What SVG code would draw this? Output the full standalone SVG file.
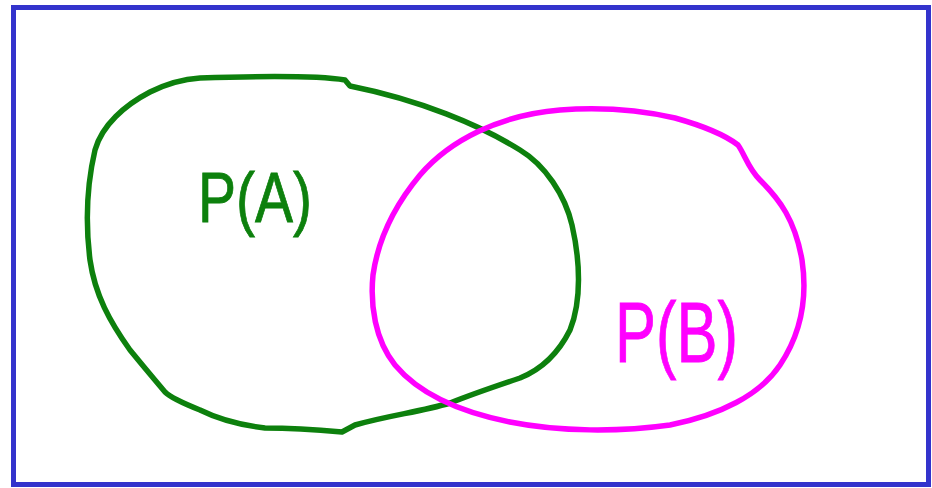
<svg xmlns="http://www.w3.org/2000/svg" width="932" height="488" viewBox="0 0 932 488">
<style>
.frame{fill:#fff;stroke:#3333cc;stroke-width:5}
.blob{fill:none;stroke-width:5.5;stroke-linecap:round;stroke-linejoin:round}
.lbl{font-family:"Liberation Sans",Arial,sans-serif;stroke-width:0.8}
</style>
<rect class="frame" x="13.5" y="7.5" width="915" height="477"/>
<g id="setA">
<path class="blob" stroke="#0d800d" d="M200,78 C260,76 320,76 345,80 L350,86 C420,100 480,125 520,150 C545,165 565,195 572,225 C580,260 582,300 570,330 C560,350 545,368 520,378 C490,388 470,395 450,403 C420,412 390,415 355,425 L342,432 C320,430 290,428 265,428 C240,425 220,420 200,410 C185,404 170,397 165,392 C155,380 148,372 130,350 C110,322 95,295 90,260 C85,220 88,180 95,150 C102,125 125,105 150,92 C170,82 185,79 200,78 Z"/>
<text class="lbl" x="198" y="222" font-size="70" fill="#0d800d" stroke="#0d800d" textLength="114" lengthAdjust="spacingAndGlyphs">P(A)</text>
</g>
<g id="setB">
<path class="blob" stroke="#ff00ff" d="M675,118 C700,125 725,135 738,145 C745,155 748,168 760,180 C780,200 795,220 802,260 C808,300 800,335 780,365 C760,395 720,415 670,425 C620,432 560,432 510,422 C460,412 420,395 395,365 C375,340 370,305 373,275 C378,240 395,205 420,175 C450,140 500,115 560,110 C600,107 640,110 675,118 Z"/>
<text class="lbl" x="615" y="362" font-size="86" fill="#ff00ff" stroke="#ff00ff" textLength="123" lengthAdjust="spacingAndGlyphs">P(B)</text>
</g>
</svg>
